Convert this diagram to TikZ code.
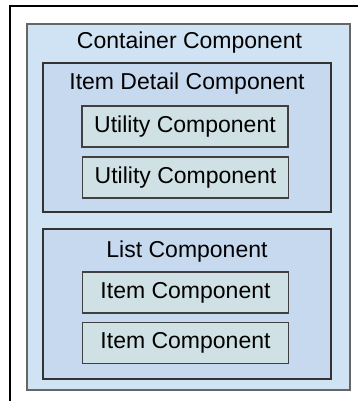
\documentclass[tikz,border=0pt]{standalone}
\usepackage{fontspec}
\setmainfont{Liberation Sans}
\usetikzlibrary{positioning}
\definecolor{outerblue}{HTML}{CFE3F4}
\definecolor{innerblue}{HTML}{C6D9EF}
\definecolor{leafgray}{HTML}{CFE1E4}
\tikzset{
    outerbox/.style={draw=black!60,line width=1.3pt,fill=outerblue,inner sep=0pt},
    groupbox/.style={draw=black!80,line width=1.3pt,fill=innerblue,inner sep=0pt},
    leafbox/.style={draw=black!75,line width=1.2pt,fill=leafgray,inner sep=0pt,
        minimum width=206pt,minimum height=41pt,font=\fontsize{23}{27}\selectfont},
    caption/.style={inner sep=0pt,font=\fontsize{23}{27}\selectfont}
}
\begin{document}
\begin{tikzpicture}[x=1pt,y=-1pt]
        \useasboundingbox (0,0) rectangle (358,401);
        % Frame
        \draw[line width=2pt] (10,401) -- (10,6) -- (358,6);
        % Boxes
        \node[outerbox,minimum width=323pt,minimum height=366pt] (container) at (188.5,207) {};
        \node[groupbox,minimum width=288pt,minimum height=149pt] (detail) at (187,137.5) {};
        \node[groupbox,minimum width=288pt,minimum height=150pt] (list) at (187,304) {};
        % Titles
        \node[caption] (containertitle) at (189.5,43) {Container Component};
        \node[caption] (detailtitle) at (187,84) {Item Detail Component};
        \node[caption] (listtitle) at (187,252) {List Component};
        % Leaves
        \node[leafbox] (utility1) at (185,126.5) {Utility Component};
        \node[leafbox] (utility2) at (185.5,177.5) {Utility Component};
        \node[leafbox] (item1) at (185.5,292.5) {Item Component};
        \node[leafbox] (item2) at (185.5,343) {Item Component};
    \end{tikzpicture}
\end{document}
